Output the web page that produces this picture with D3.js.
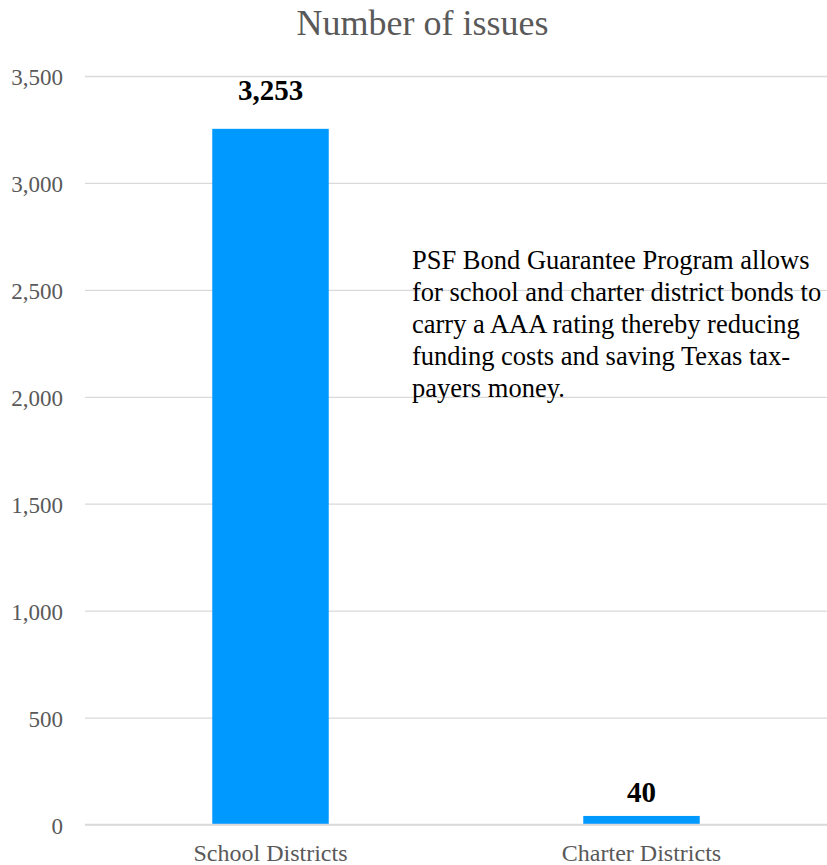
<!DOCTYPE html>
<html>
<head>
<meta charset="utf-8">
<script src="https://cdn.jsdelivr.net/npm/d3@7"></script>
<style>
  body { margin: 0; background: #fff; }
  #chart { width: 827px; height: 865px; }
  text { font-family: "Liberation Serif", "Times New Roman", serif; }
</style>
</head>
<body>
<div id="chart"></div>
<script>
// -- data --
var categories = ["School Districts", "Charter Districts"];
var issues = [3253, 40];
var yTicks = [0, 500, 1000, 1500, 2000, 2500, 3000, 3500];
var titleText = "Number of issues";
var noteLines = [
  "PSF Bond Guarantee Program allows",
  "for school and charter district bonds to",
  "carry a AAA rating thereby reducing",
  "funding costs and saving Texas tax-",
  "payers money."
];

var visualize = function() {
  var W = 827, H = 865;
  var margin = { top: 76, right: 0, bottom: 40.5, left: 85 };
  var width = W - margin.left - margin.right,
      height = H - margin.top - margin.bottom;

  var svg = d3.select("#chart")
    .append("svg")
    .attr("width", W)
    .attr("height", H);

  var g = svg.append("g")
    .attr("transform", "translate(" + margin.left + "," + margin.top + ")");

  // == scales ==
  var x = d3.scaleBand()
    .domain(categories)
    .range([0, width])
    .paddingInner(0.686)
    .paddingOuter(0.343);

  var y = d3.scaleLinear()
    .domain([0, 3500])
    .range([height, 0]);

  // -- grid lines --
  var y_grid = d3.axisLeft(y)
    .tickValues(yTicks)
    .tickSize(-width)
    .tickFormat("");
  var grid = g.append("g").call(y_grid);
  grid.select(".domain").remove();
  grid.selectAll("line").attr("stroke", "#d9d9d9").attr("stroke-width", 1.3);

  // -- y axis labels --
  var y_axis = d3.axisLeft(y)
    .tickValues(yTicks)
    .tickSize(0)
    .tickPadding(22)
    .tickFormat(d3.format(","));
  var ya = g.append("g").call(y_axis);
  ya.select(".domain").remove();
  ya.selectAll("text")
    .attr("dy", "0.37em")
    .style("font-family", "Liberation Serif")
    .style("font-size", "23px")
    .attr("fill", "#595959");

  // -- bars --
  var rows = categories.map(function (c, i) { return { cat: c, value: issues[i] }; });

  g.selectAll(".bar")
    .data(rows)
    .enter()
    .append("rect")
    .attr("class", "bar")
    .attr("x", function (d) { return x(d.cat); })
    .attr("y", function (d) { return y(d.value); })
    .attr("width", x.bandwidth())
    .attr("height", function (d) { return y(0) - y(d.value); })
    .attr("fill", "#0099ff");

  // zero line over the bars
  g.append("line")
    .attr("x1", 0).attr("x2", width)
    .attr("y1", y(0)).attr("y2", y(0))
    .attr("stroke", "#d9d9d9")
    .attr("stroke-width", 1.5);

  // -- value labels (first one was dragged up in the original) --
  var labelGap = [28.7, 13.7];
  g.selectAll(".vlabel")
    .data(rows)
    .enter()
    .append("text")
    .attr("class", "vlabel")
    .attr("x", function (d) { return x(d.cat) + x.bandwidth() / 2; })
    .attr("y", function (d, i) { return y(d.value) - labelGap[i]; })
    .attr("text-anchor", "middle")
    .style("font-weight", "bold")
    .style("font-size", "29px")
    .attr("fill", "#000")
    .text(function (d) { return d3.format(",")(d.value); });

  // -- category labels --
  g.selectAll(".clabel")
    .data(categories)
    .enter()
    .append("text")
    .attr("class", "clabel")
    .attr("x", function (d) { return x(d) + x.bandwidth() / 2; })
    .attr("y", y(0) + 36.3)
    .attr("text-anchor", "middle")
    .style("font-size", "24px")
    .attr("fill", "#595959")
    .text(function (d) { return d; });

  // -- title --
  svg.append("text")
    .attr("x", 422.5)
    .attr("y", 35)
    .attr("text-anchor", "middle")
    .style("font-size", "36px")
    .attr("fill", "#595959")
    .text(titleText);

  // -- note --
  var note = svg.append("text")
    .attr("x", 412)
    .attr("y", 268.5)
    .style("font-size", "26.5px")
    .attr("fill", "#000");
  note.selectAll("tspan")
    .data(noteLines)
    .enter()
    .append("tspan")
    .attr("x", 412)
    .attr("dy", function (d, i) { return i == 0 ? 0 : 32.1; })
    .text(function (d) { return d; });
};

visualize();
</script>
</body>
</html>
